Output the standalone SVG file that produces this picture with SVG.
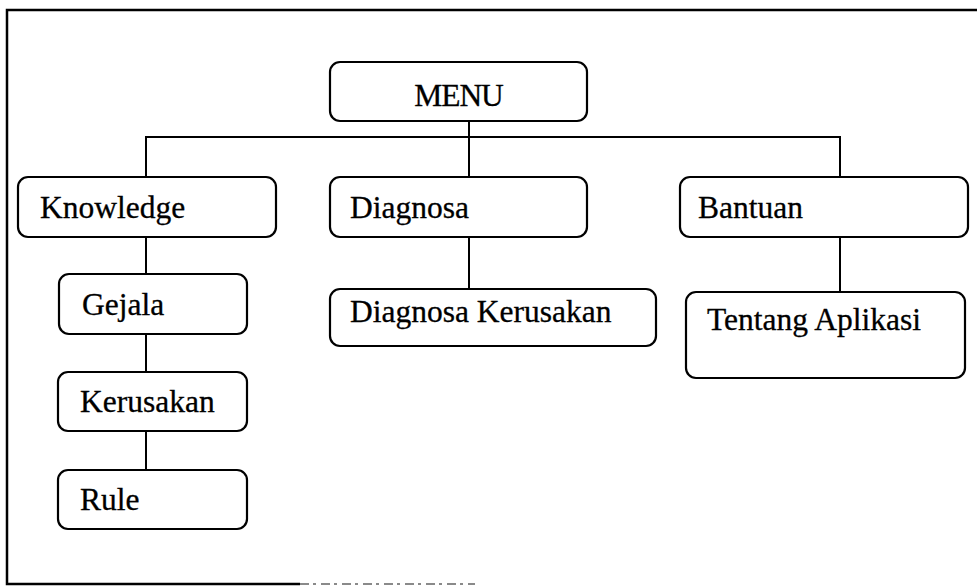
<svg xmlns="http://www.w3.org/2000/svg" width="977" height="587" viewBox="0 0 977 587">
  <style>
    .box { fill: #ffffff; stroke: #000000; stroke-width: 2.2; }
    .lbl { font-family: "Liberation Serif", "Times New Roman", serif; font-size: 31.5px; fill: #000000; stroke: #000000; stroke-width: 0.3; }
    .wire { fill: none; stroke: #000000; stroke-width: 2; }
    .frame { fill: none; stroke: #000000; stroke-width: 2.5; }
  </style>
  <rect width="977" height="587" fill="#ffffff"/>
  <!-- outer frame: open on the right, bottom edge fades out -->
  <path class="frame" d="M 980 10 L 7 10 L 7 584 L 300 584"/>
  <path d="M 300 584 L 475 584" fill="none" stroke="#8a8a8a" stroke-width="2" stroke-dasharray="9 4 3 5"/>

  <g id="connectors">
    <path class="wire" d="M 469 121 L 469 177"/>
    <path class="wire" d="M 146 177 L 146 137 L 840 137 L 840 177"/>
    <path class="wire" d="M 146 237 L 146 274"/>
    <path class="wire" d="M 146 334 L 146 372"/>
    <path class="wire" d="M 146 431 L 146 470"/>
    <path class="wire" d="M 469 237 L 469 289"/>
    <path class="wire" d="M 840 237 L 840 292"/>
  </g>

  <g id="menu">
    <rect class="box" x="330" y="62" width="257" height="59" rx="10"/>
    <text class="lbl" x="458.5" y="106" text-anchor="middle" letter-spacing="-1">MENU</text>
  </g>
  <g id="knowledge">
    <rect class="box" x="18" y="177" width="258" height="60" rx="10"/>
    <text class="lbl" x="40" y="218">Knowledge</text>
  </g>
  <g id="diagnosa">
    <rect class="box" x="330" y="177" width="257" height="60" rx="10"/>
    <text class="lbl" x="350" y="218">Diagnosa</text>
  </g>
  <g id="bantuan">
    <rect class="box" x="680" y="177" width="288" height="60" rx="10"/>
    <text class="lbl" x="698" y="218">Bantuan</text>
  </g>
  <g id="gejala">
    <rect class="box" x="59" y="274" width="188" height="60" rx="10"/>
    <text class="lbl" x="82" y="315">Gejala</text>
  </g>
  <g id="kerusakan">
    <rect class="box" x="58" y="372" width="189" height="59" rx="10"/>
    <text class="lbl" x="80" y="412">Kerusakan</text>
  </g>
  <g id="rule">
    <rect class="box" x="58" y="470" width="189" height="59" rx="10"/>
    <text class="lbl" x="80" y="510">Rule</text>
  </g>
  <g id="diagnosa-kerusakan">
    <rect class="box" x="330" y="289" width="326" height="57" rx="10"/>
    <text class="lbl" x="350" y="322">Diagnosa Kerusakan</text>
  </g>
  <g id="tentang-aplikasi">
    <rect class="box" x="686" y="292" width="279" height="86" rx="10"/>
    <text class="lbl" x="707" y="330">Tentang Aplikasi</text>
  </g>
</svg>
